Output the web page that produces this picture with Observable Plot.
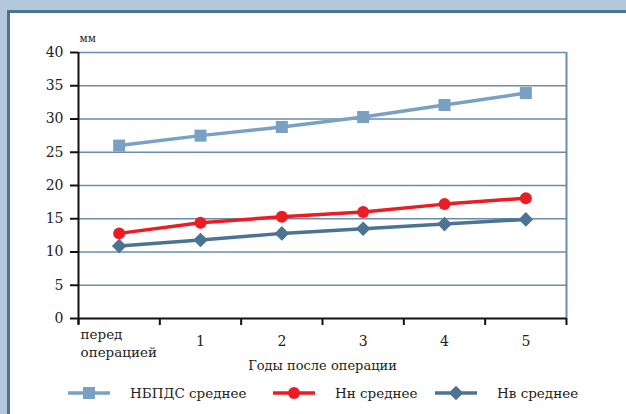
<!DOCTYPE html>
<html>
<head>
<meta charset="utf-8">
<script src="https://cdn.jsdelivr.net/npm/d3@7"></script>
<script src="https://cdn.jsdelivr.net/npm/@observablehq/plot@0.6"></script>
<style>
  body { margin: 0; }
  #page { position: relative; width: 626px; height: 414px; background: #b4c8dc; overflow: hidden; font-family: "DejaVu Serif", serif; }
  #panel { position: absolute; left: 7px; top: 10px; width: 660px; height: 440px; background: #fff; border-left: 3px solid #4a7394; border-top: 3px solid #4a7394; }
  #chart { position: absolute; left: 0; top: 0; }
  #legend { position: absolute; left: 0; top: 384px; width: 626px; height: 18px; font-size: 13.5px; color: #222; }
  .item { position: absolute; top: 0; display: flex; align-items: center; white-space: nowrap; }
  .item svg { margin-right: 20px; }
</style>
</head>
<body>
<div id="page">
  <div id="panel"></div>
  <div id="chart"></div>
  <div id="legend"></div>
</div>
<script>
const categories = ["перед\nоперацией", "1", "2", "3", "4", "5"];
const seriesNames = ["НБПДС среднее", "Нн среднее", "Нв среднее"];
const nbpds = [26.0, 27.5, 28.8, 30.3, 32.1, 33.9];
const nn = [12.8, 14.4, 15.3, 16.0, 17.2, 18.1];
const nv = [10.9, 11.8, 12.8, 13.5, 14.2, 14.9];
const yTicks = [0, 5, 10, 15, 20, 25, 30, 35, 40];
const xTitle = "Годы после операции";
const yUnit = "мм";

const colors = ["#78a1c3", "#ec1c24", "#4b7393"];
const symbols = ["square", "circle", "diamond2"];
const radii = [6.8, 6, 6.6];
const gridColor = "#6a8dab";
const series = [nbpds, nn, nv];
const legendLeft = [68, 273, 435];

const n = categories.length;
const pos = (d, i) => i + 0.5;

const seriesMarks = series.flatMap((vals, k) => [
  Plot.lineY(vals, {x: pos, y: d => d, stroke: colors[k], strokeWidth: 3.5}),
  Plot.dot(vals, {x: pos, y: d => d, symbol: symbols[k], r: radii[k], fill: colors[k], stroke: "none"})
]);

const chart = Plot.plot({
  width: 626,
  height: 378,
  marginLeft: 78,
  marginRight: 60,
  marginTop: 52,
  marginBottom: 60,
  x: {type: "linear", domain: [0, n], axis: null},
  y: {domain: [0, 40], axis: null},
  style: {fontFamily: "DejaVu Serif", fontSize: "14px", background: "transparent", color: "#222", overflow: "visible"},
  marks: [
    Plot.ruleY(yTicks.slice(1), {stroke: gridColor, strokeWidth: 1.5}),
    Plot.ruleX([n], {stroke: gridColor, strokeWidth: 2}),
    Plot.axisY({ticks: yTicks, tickSize: 8, tickPadding: 7, stroke: "#111", strokeWidth: 2, fontSize: 14, label: null, tickFormat: d => String(d)}),
    Plot.axisX({ticks: d3.range(n + 1), tickSize: 7, tickFormat: () => "", stroke: "#111", strokeWidth: 2, label: null}),
    Plot.ruleY([0], {stroke: "#111", strokeWidth: 2}),
    Plot.ruleX([0], {stroke: "#111", strokeWidth: 2, insetBottom: -6}),
    Plot.text(categories.slice(0, 1), {x: (d, i) => i, frameAnchor: "bottom", dy: 24, dx: 2, textAnchor: "start", lineAnchor: "middle", lineHeight: 1.35, fontSize: 13.5}),
    Plot.text(categories.slice(1), {x: (d, i) => i + 1.5, frameAnchor: "bottom", dy: 23, textAnchor: "middle", lineAnchor: "middle", fontSize: 14}),
    Plot.text([xTitle], {x: n / 2, frameAnchor: "bottom", dy: 47, lineAnchor: "middle", fontSize: 13}),
    Plot.text([yUnit], {frameAnchor: "top-left", dx: 1, dy: -14, textAnchor: "start", lineAnchor: "middle", fontSize: 10.5}),
    ...seriesMarks
  ]
});
document.getElementById("chart").append(chart);

// legend
const legend = document.getElementById("legend");
seriesNames.forEach((name, k) => {
  const item = document.createElement("div");
  item.className = "item";
  item.style.left = legendLeft[k] + "px";
  const sym = d3.symbol(
    {square: d3.symbolSquare, circle: d3.symbolCircle, diamond2: d3.symbolDiamond2}[symbols[k]],
    Math.PI * radii[k] * radii[k]
  )();
  item.innerHTML = `<svg width="42" height="18"><line x1="0" x2="42" y1="9" y2="9" stroke="${colors[k]}" stroke-width="3.5"/><path transform="translate(21,9)" d="${sym}" fill="${colors[k]}"/></svg><span>${name}</span>`;
  legend.append(item);
});
</script>
</body>
</html>
